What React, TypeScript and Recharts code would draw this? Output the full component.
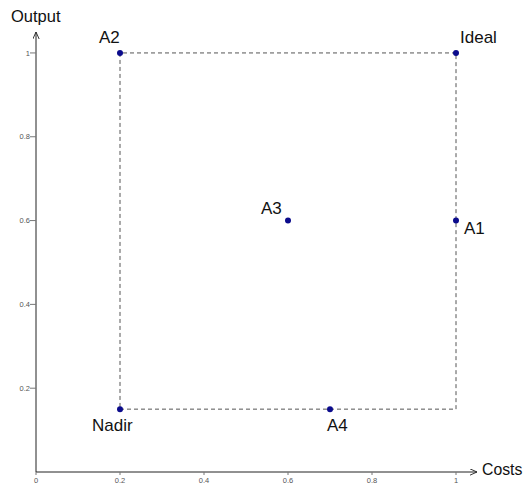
import React from "react";
import {
  ScatterChart, Scatter, XAxis, YAxis, ReferenceLine,
} from "recharts";

// alternatives: costs (x) vs output (y)
const names = ["A2", "Ideal", "A3", "A1", "Nadir", "A4"];
const costs = [0.2, 1, 0.6, 1, 0.2, 0.7];
const output = [1, 1, 0.6, 0.6, 0.15, 0.15];

const xTicks = [0, 0.2, 0.4, 0.6, 0.8, 1];
const yTicks = [0.2, 0.4, 0.6, 0.8, 1];

const points = names.map((name, i) => ({ name, x: costs[i], y: output[i] }));

// dashed box spans Nadir -> Ideal
const nadir = points[names.indexOf("Nadir")];
const ideal = points[names.indexOf("Ideal")];

// label placement around each dot (offset of text start / baseline)
const LABEL_POS: Record<string, { dx: number; dy: number }> = {
  A2:    { dx: -21, dy: -10 },
  Ideal: { dx: 4,   dy: -10 },
  A3:    { dx: -27, dy: -7 },
  A1:    { dx: 8,   dy: 13 },
  Nadir: { dx: -28, dy: 22 },
  A4:    { dx: -3,  dy: 22 },
};

const FONT = "'Liberation Sans', Arial, sans-serif";
const DOT = "#0b0b8c";
const DASH = "#555";

function fmt(v: number) {
  return v === 0 || v === 1 ? String(v) : v.toFixed(1);
}

function XTick({ x, y, payload }: any) {
  return (
    <g>
      <line x1={x} x2={x} y1={y} y2={y + 3} stroke="#777" />
      <text x={x} y={y + 10.5} textAnchor="middle" fontSize={7.5} fill="#555" fontFamily={FONT}>
        {fmt(payload.value)}
      </text>
    </g>
  );
}

function YTick({ x, y, payload }: any) {
  return (
    <g>
      <line x1={x - 6} x2={x} y1={y} y2={y} stroke="#777" />
      <text x={x - 6} y={y + 2.7} textAnchor="end" fontSize={7.5} fill="#555" fontFamily={FONT}>
        {fmt(payload.value)}
      </text>
    </g>
  );
}

function Dot({ cx, cy, payload }: any) {
  const p = LABEL_POS[payload.name];
  return (
    <g>
      <circle cx={cx} cy={cy} r={3} fill={DOT} />
      <text x={cx + p.dx} y={cy + p.dy} fontSize={17} fill="#111" fontFamily={FONT}>
        {payload.name}
      </text>
    </g>
  );
}

const dashed = { stroke: DASH, strokeDasharray: "4 3", strokeWidth: 1 };

export default function App() {
  return (
    <div style={{ position: "absolute", left: 0, top: 0, width: 523, height: 485, background: "#fff" }}>
      <ScatterChart
        width={523} height={485}
        margin={{ top: 32, right: 46, bottom: 0, left: 0 }}
        style={{ fontFamily: FONT }}
      >
        <defs>
          <marker
            id="arrow" viewBox="0 0 10 10" refX="10" refY="5"
            markerWidth="7" markerHeight="7" markerUnits="userSpaceOnUse"
            orient="auto-start-reverse"
          >
            <path d="M0,0.5 L10,5 L0,9.5" fill="none" stroke="#222" strokeWidth="1.3" />
          </marker>
        </defs>
        <XAxis
          type="number" dataKey="x" domain={[0, 1.05]} ticks={xTicks}
          height={13} tickSize={0} tickMargin={0}
          tickLine={false} tick={<XTick />}
          axisLine={{ stroke: "#222", markerEnd: "url(#arrow)" }}
        />
        <YAxis
          type="number" dataKey="y" domain={[0, 1.05]} ticks={yTicks}
          width={36} tickSize={0} tickMargin={0}
          tickLine={false} tick={<YTick />}
          axisLine={{ stroke: "#222", markerStart: "url(#arrow)" }}
        />
        <ReferenceLine segment={[{ x: nadir.x, y: nadir.y }, { x: ideal.x, y: nadir.y }]} {...dashed} />
        <ReferenceLine segment={[{ x: ideal.x, y: nadir.y }, { x: ideal.x, y: ideal.y }]} {...dashed} />
        <ReferenceLine segment={[{ x: ideal.x, y: ideal.y }, { x: nadir.x, y: ideal.y }]} {...dashed} />
        <ReferenceLine segment={[{ x: nadir.x, y: ideal.y }, { x: nadir.x, y: nadir.y }]} {...dashed} />
        <Scatter data={points} shape={<Dot />} isAnimationActive={false} />
        <text x={11} y={22} fontSize={16.5} fill="#111" fontFamily={FONT}>Output</text>
        <text x={482} y={475} fontSize={15.8} fill="#111" fontFamily={FONT}>Costs</text>
      </ScatterChart>
    </div>
  );
}
